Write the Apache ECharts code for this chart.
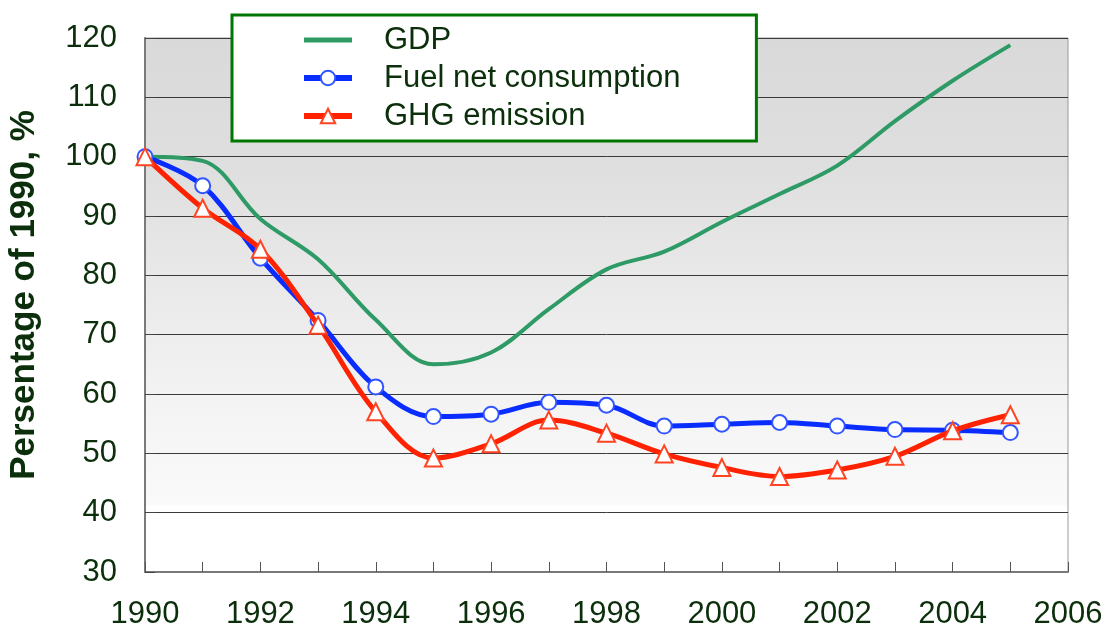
<!DOCTYPE html>
<html>
<head>
<meta charset="utf-8">
<script src="https://cdn.jsdelivr.net/npm/echarts@6/dist/echarts.min.js"></script>
<style>
html,body{margin:0;padding:0;background:#fff;}
#c{width:1107px;height:629px;}
</style>
</head>
<body>
<div id="c"></div>
<script>
var years = [1990,1991,1992,1993,1994,1995,1996,1997,1998,1999,2000,2001,2002,2003,2004,2005];
var gdp  = [100, 99.3, 89.5, 82.7, 72.5, 65.0, 67.0, 74.3, 81.0, 84.0, 89.0, 93.7, 98.5, 106.0, 112.8, 118.8];
var fuel = [100, 95.1, 82.9, 72.4, 61.2, 56.2, 56.6, 58.6, 58.1, 54.6, 54.9, 55.2, 54.6, 54.0, 53.9, 53.5];
var ghg  = [100, 91.3, 84.4, 71.6, 57.0, 49.2, 51.6, 55.6, 53.4, 49.9, 47.6, 46.1, 47.2, 49.5, 53.8, 56.5];
var seriesNames = ['GDP', 'Fuel net consumption', 'GHG emission'];
var yTitle = 'Persentage of 1990, %';

function pairs(arr){ return years.map(function(y,i){ return [y, arr[i]]; }); }

var txt = '#0b2e0b';
var font = 'Liberation Sans, Arial, sans-serif';
var chart = echarts.init(document.getElementById('c'));
chart.setOption({
  animation: false,
  backgroundColor: '#ffffff',
  grid: {
    left: 145, right: 39, top: 38, bottom: 57,
    outerBoundsMode: 'none',
    containLabel: false,
    show: true,
    borderColor: '#9a9a9a', borderWidth: 1,
    backgroundColor: new echarts.graphic.LinearGradient(0,0,0,1,[
      {offset:0, color:'#d9d9d9'},
      {offset:0.25, color:'#dfdfdf'},
      {offset:0.5, color:'#ebebeb'},
      {offset:0.7, color:'#f4f4f4'},
      {offset:0.874, color:'#fafafa'},
      {offset:0.875, color:'#ffffff'},
      {offset:1, color:'#ffffff'}
    ])
  },
  legend: {
    orient: 'vertical',
    left: 232, top: 15,
    backgroundColor: '#ffffff',
    borderColor: '#007700', borderWidth: 3, borderRadius: 0,
    padding: [9, 76, 9, 69],
    itemWidth: 48, itemHeight: 18, itemGap: 6,
    symbolKeepAspect: true,
    lineStyle: { width: 6 },
    textStyle: { fontFamily: font, fontSize: 31, color: txt, lineHeight: 32, padding: [0,0,0,27] },
    data: [
      { name: seriesNames[0], icon: 'path://M0,0 L48,0 L48,5 L0,5 Z', itemStyle: { color: '#2e9a66', borderWidth: 0 } },
      { name: seriesNames[1] },
      { name: seriesNames[2] }
    ]
  },
  xAxis: {
    type: 'value', min: 1990, max: 2006, interval: 1,
    axisLine: { show: true, lineStyle: { color: '#7a7a7a', width: 2 } },
    axisTick: { show: true, inside: true, length: 10, lineStyle: { color: '#555', width: 1 } },
    splitLine: { show: false },
    axisLabel: {
      margin: 27,
      fontFamily: font, fontSize: 31, color: txt,
      formatter: function(v){ return (v % 2 === 0) ? String(v) : ''; }
    }
  },
  yAxis: {
    type: 'value', min: 30, max: 120, interval: 10,
    name: yTitle, nameLocation: 'middle', nameGap: 103, nameRotate: 90,
    nameTextStyle: { fontFamily: font, fontSize: 35, fontWeight: 'bold', color: txt, padding: [0, 0, 0, 20] },
    axisLine: { show: true, lineStyle: { color: '#7a7a7a', width: 2 } },
    axisTick: { show: true, inside: true, length: 10, lineStyle: { color: '#444' } },
    splitLine: { show: true, lineStyle: { color: '#3a3a3a', width: 1 } },
    axisLabel: { margin: 28, fontFamily: font, fontSize: 31, color: txt }
  },
  series: [
    {
      name: seriesNames[0], type: 'line', data: pairs(gdp), smooth: 0.35,
      symbol: 'none', showSymbol: false,
      lineStyle: { color: '#2e9a66', width: 4 }, itemStyle: { color: '#2e9a66' }, z: 2
    },
    {
      name: seriesNames[1], type: 'line', data: pairs(fuel), smooth: 0.35,
      symbol: 'circle', symbolSize: 15, showSymbol: true,
      lineStyle: { color: '#0a2dff', width: 5 },
      itemStyle: { color: '#ffffff', borderColor: '#3355ff', borderWidth: 2 }, z: 3
    },
    {
      name: seriesNames[2], type: 'line', data: pairs(ghg), smooth: 0.35,
      symbol: 'triangle', symbolSize: 17, showSymbol: true,
      lineStyle: { color: '#ff2200', width: 5 },
      itemStyle: { color: '#ffffff', borderColor: '#ff4422', borderWidth: 2 }, z: 4
    }
  ]
});
</script>
</body>
</html>
